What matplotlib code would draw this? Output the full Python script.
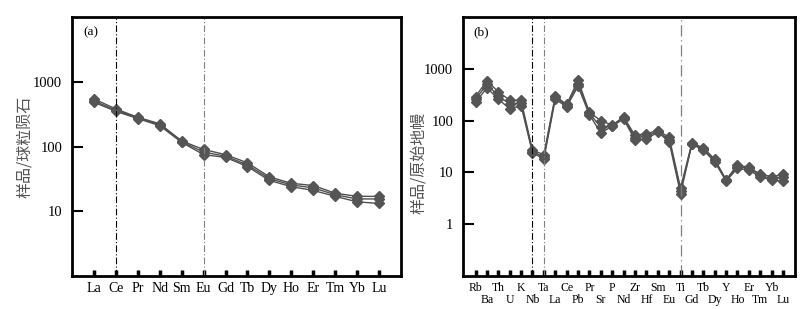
"""Chondrite-normalised REE pattern (a) and primitive-mantle spider diagram (b)."""
import matplotlib
matplotlib.use("Agg")
import matplotlib.pyplot as plt
import numpy as np

SERIF = ["Liberation Serif", "DejaVu Serif"]
CJK = ["Noto Sans CJK SC", "DejaVu Sans"]

# (a) REE / chondrite
ree = ["La", "Ce", "Pr", "Nd", "Sm", "Eu", "Gd", "Tb", "Dy", "Ho", "Er", "Tm", "Yb", "Lu"]
ree_s1 = [545, 380, 283, 225, 122, 90, 75, 56, 34, 27, 25, 19, 17, 17]
ree_s2 = [505, 365, 276, 217, 119, 82, 71, 52, 32, 25.5, 23, 18, 15.5, 15.5]
ree_s3 = [482, 350, 270, 210, 116, 75, 68, 49, 30, 24, 21, 17, 14, 13.2]

# (b) trace elements / primitive mantle
trace = ["Rb", "Ba", "Th", "U", "K", "Nb", "Ta", "La", "Ce", "Pb", "Pr", "Sr", "P", "Nd",
         "Zr", "Hf", "Sm", "Eu", "Ti", "Gd", "Tb", "Dy", "Y", "Ho", "Er", "Tm", "Yb", "Lu"]
tr_s1 = [290, 590, 360, 250, 245, 27, 22, 300, 205, 600, 145, 100, 82, 118,
         52, 56, 64, 48, 5.0, 37, 30, 18, 7.2, 14, 12.5, 9.3, 8.3, 9.2]
tr_s2 = [260, 500, 300, 210, 220, 25, 20, 280, 195, 520, 138, 75, 80, 112,
         47, 50, 62, 43, 4.4, 36, 28, 17, 7.0, 13, 12, 8.8, 7.6, 8.0]
tr_s3 = [225, 430, 260, 170, 195, 24, 18.2, 260, 185, 460, 130, 58, 78, 108,
         42, 44, 60, 39, 3.9, 35, 27, 16, 6.8, 12, 11.1, 8.2, 7.1, 6.9]

LINE_C = "#505050"
MARK_C = "#555555"


def style_axes(ax):
    for sp in ax.spines.values():
        sp.set_linewidth(2.0)
    ax.set_yscale("log")
    ax.minorticks_off()
    ax.tick_params(axis="y", direction="in", length=8, width=1.5, pad=7)
    ax.tick_params(axis="x", which="both", direction="in", length=4, width=2.5)
    ax.tick_params(top=False, right=False)


fig = plt.figure(figsize=(8.09, 3.09), dpi=100)

# ---- (a)
ax = fig.add_axes([0.089, 0.1068, 0.4067, 0.838])
style_axes(ax)
xa = np.arange(len(ree))
for s in (ree_s1, ree_s2, ree_s3):
    ax.plot(xa, s, color=LINE_C, lw=1.0, marker="D", ms=5, mfc=MARK_C, mec=MARK_C)
ax.axvline(ree.index("Ce"), color="black", lw=0.8, ls=(0, (6, 2, 1, 2)))
ax.axvline(ree.index("Eu"), color="#808080", lw=0.8, ls=(0, (6, 2, 1, 2)))
ax.set_xlim(-1, 14)
ax.set_ylim(1, 10000)
ax.set_yticks([10, 100, 1000])
ax.set_yticklabels(["10", "100", "1000"], family=SERIF, fontsize=10.5)
ax.set_xticks(xa)
ax.set_xticklabels(ree, family=SERIF, fontsize=10)
ax.tick_params(axis="x", pad=4)
ax.set_ylabel("样品/球粒陨石", family=CJK, fontsize=11.5, color="#555555")
ax.yaxis.set_label_coords(-0.12, 0.5)
ax.text(0.035, 0.94, "(a)", transform=ax.transAxes, family=SERIF, fontsize=9.5,
        va="center", ha="left")

# ---- (b)
bx = fig.add_axes([0.5723, 0.1068, 0.4104, 0.838])
style_axes(bx)
xb = np.arange(len(trace))
for s in (tr_s1, tr_s2, tr_s3):
    bx.plot(xb, s, color=LINE_C, lw=1.0, marker="D", ms=5, mfc=MARK_C, mec=MARK_C)
bx.axvline(trace.index("Nb"), color="black", lw=0.8, ls=(0, (6, 2, 1, 2)))
bx.axvline(trace.index("Ta"), color="#808080", lw=0.8, ls=(0, (6, 2, 1, 2)))
bx.axvline(trace.index("Ti"), color="#808080", lw=0.9, ls=(0, (9, 3, 1, 3)))
bx.set_xlim(-1.1, 28.05)
bx.set_ylim(0.1, 10000)
bx.set_yticks([1, 10, 100, 1000])
bx.set_yticklabels(["1", "10", "100", "1000"], family=SERIF, fontsize=10.5)
# alternating element labels: even on the upper row, odd on the lower row
bx.set_xticks(xb[::2])
bx.set_xticklabels(trace[::2], family=SERIF, fontsize=8.5)
bx.set_xticks(xb[1::2], minor=True)
bx.set_xticklabels(trace[1::2], minor=True, family=SERIF, fontsize=8.5)
bx.tick_params(axis="x", which="major", pad=4)
bx.tick_params(axis="x", which="minor", pad=13)
bx.set_ylabel("样品/原始地幔", family=CJK, fontsize=11.5, color="#555555")
bx.yaxis.set_label_coords(-0.108, 0.436)
bx.text(0.03, 0.94, "(b)", transform=bx.transAxes, family=SERIF, fontsize=9.5,
        va="center", ha="left")

fig.savefig("out.png", dpi=100)
